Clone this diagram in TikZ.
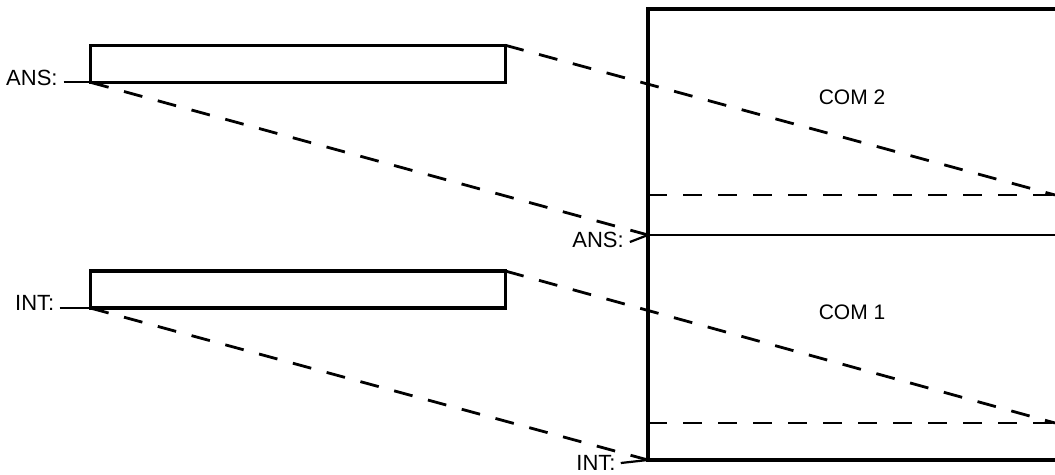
\documentclass[tikz,border=0pt]{standalone}
\usepackage{fontspec}
\setmainfont{Liberation Sans}
\begin{document}
\begin{tikzpicture}[x=1pt,y=-1pt,
  smallbox/.style={draw,line width=3.4pt,minimum width=415pt,minimum height=37pt,inner sep=0pt,outer sep=0pt},
  lbl/.style={inner sep=0pt,font=\fontsize{22}{26}\selectfont},
  comlbl/.style={inner sep=0pt,font=\fontsize{21}{25}\selectfont},
  frame/.style={line width=3.4pt,line join=miter},
  divider/.style={line width=2.2pt},
  dashline/.style={line width=2.8pt,dash pattern=on 19pt off 16pt},
  hdash/.style={line width=2.6pt,dash pattern=on 19pt off 16pt},
  tick/.style={line width=2.2pt}]
\useasboundingbox (0,0) rectangle (1055,474);
% small boxes
\node[smallbox] (ansbox) at (297.75,63.75) {};
\node[smallbox] (intbox) at (297.75,289.5) {};
% big box corners
\coordinate (bigTL) at (648,9);
\coordinate (bigTR) at (1055,9);
\coordinate (bigBL) at (648,460);
\coordinate (bigBR) at (1055,460);
\coordinate (divA) at (648,235);
\coordinate (divAR) at (1055,235);
\coordinate (c2l) at (648,195);
\coordinate (c2r) at (1055,195);
\coordinate (c1l) at (648,423);
\coordinate (c1r) at (1055,423);
\draw[frame] (bigTR) -- (bigTL) -- (bigBL) -- (bigBR);
\draw[divider] (divA) -- (divAR);
\draw[hdash] (c2l) -- (c2r);
\draw[hdash] (c1l) -- (c1r);
% labels
\node[lbl,anchor=base west] (ansL) at (6,85) {ANS:};
\node[lbl,anchor=base west] (intL) at (15,310) {INT:};
\node[lbl,anchor=center] (ansR) at (598,240) {ANS:};
\node[lbl,anchor=center] (intR) at (596,463) {INT:};
\node[comlbl] (com2) at (852,97) {COM 2};
\node[comlbl] (com1) at (852,312) {COM 1};
% ticks
\draw[tick] ([xshift=6pt]ansL.east |- ansbox.south west) -- (ansbox.south west);
\draw[tick] ([xshift=5pt]intL.east |- intbox.south west) -- (intbox.south west);
\draw[tick] ([xshift=6pt,yshift=-2pt]ansR.east) -- (divA);
\draw[tick] ([xshift=5pt]intR.east) -- (bigBL);
% dashed projections
\draw[dashline] (ansbox.north east) -- (c2r);
\draw[dashline] (ansbox.south west) -- (divA);
\draw[dashline] (intbox.north east) -- (c1r);
\draw[dashline] (intbox.south west) -- (bigBL);
\end{tikzpicture}
\end{document}
